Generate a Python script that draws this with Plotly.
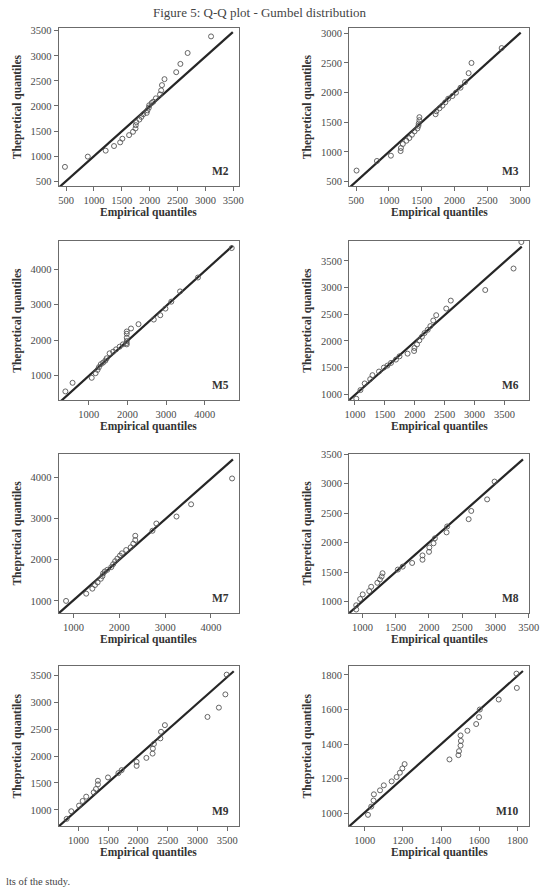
import plotly.graph_objects as go

W, H = 556, 891

# ---------------- data ----------------
panel_names = ["M2", "M3", "M5", "M6", "M7", "M8", "M9", "M10"]

m2_emp = [480, 890, 1210, 1360, 1470, 1510, 1630, 1700, 1745, 1750, 1760, 1815, 1850, 1885, 1945, 1960, 1985, 1990, 2035, 2065, 2110, 2185, 2205, 2220, 2265, 2475, 2550, 2680, 3100]
m2_theo = [784, 989, 1108, 1200, 1273, 1346, 1418, 1484, 1551, 1617, 1676, 1729, 1782, 1835, 1861, 1914, 1967, 2013, 2059, 2086, 2152, 2231, 2311, 2416, 2535, 2674, 2839, 3057, 3388]

m3_emp = [505, 816, 1029, 1177, 1182, 1211, 1266, 1310, 1350, 1389, 1434, 1449, 1454, 1464, 1464, 1711, 1721, 1770, 1815, 1859, 1904, 1968, 2022, 2091, 2160, 2215, 2259, 2719]
m3_theo = [684, 846, 935, 1013, 1064, 1132, 1187, 1232, 1288, 1344, 1394, 1439, 1478, 1534, 1584, 1634, 1684, 1734, 1779, 1835, 1896, 1941, 1997, 2081, 2175, 2326, 2498, 2749]

m5_emp = [395, 580, 1076, 1176, 1227, 1261, 1311, 1370, 1429, 1462, 1538, 1630, 1706, 1798, 1882, 1975, 1983, 1983, 1983, 1983, 1983, 2092, 2286, 2681, 2849, 2983, 3134, 3361, 3824, 4697]
m5_theo = [551, 794, 935, 1065, 1159, 1234, 1318, 1364, 1421, 1486, 1626, 1673, 1738, 1813, 1879, 1916, 1879, 1972, 2065, 2178, 2243, 2327, 2449, 2579, 2701, 2888, 3084, 3374, 3766, 4598]

m6_emp = [1022, 1092, 1163, 1255, 1293, 1402, 1484, 1543, 1603, 1685, 1745, 1880, 1989, 1995, 2038, 2076, 2120, 2163, 2217, 2261, 2310, 2359, 2527, 2603, 3179, 3652, 3783]
m6_theo = [913, 1075, 1199, 1280, 1355, 1423, 1498, 1535, 1585, 1647, 1709, 1759, 1809, 1865, 1933, 2008, 2077, 2145, 2207, 2276, 2381, 2481, 2606, 2755, 2954, 3358, 3856]

m7_emp = [837, 1277, 1411, 1468, 1525, 1596, 1631, 1645, 1681, 1738, 1823, 1865, 1908, 1957, 2014, 2057, 2149, 2248, 2305, 2348, 2348, 2723, 2808, 3248, 3567, 4461]
m7_theo = [1000, 1176, 1297, 1385, 1449, 1537, 1601, 1665, 1713, 1754, 1818, 1890, 1962, 2026, 2098, 2154, 2234, 2299, 2387, 2475, 2579, 2700, 2876, 3045, 3342, 3968]

m8_emp = [907, 907, 966, 1005, 1103, 1132, 1225, 1264, 1289, 1303, 1533, 1606, 1748, 1904, 1904, 2002, 2007, 2070, 2090, 2266, 2275, 2598, 2637, 2876, 2988]
m8_theo = [866, 938, 1045, 1123, 1179, 1252, 1320, 1376, 1426, 1482, 1544, 1594, 1656, 1711, 1784, 1845, 1918, 1990, 2074, 2175, 2276, 2399, 2539, 2735, 3037]

m9_emp = [803, 880, 1011, 1071, 1131, 1257, 1295, 1328, 1328, 1497, 1672, 1726, 1978, 1978, 2142, 2246, 2251, 2268, 2377, 2388, 2453, 3169, 3360, 3469, 3491]
m9_theo = [834, 975, 1080, 1166, 1246, 1326, 1388, 1474, 1541, 1603, 1683, 1738, 1818, 1892, 1966, 2046, 2138, 2224, 2328, 2451, 2574, 2727, 2899, 3145, 3512]

m10_emp = [1017, 1034, 1046, 1048, 1080, 1100, 1141, 1167, 1184, 1197, 1209, 1444, 1491, 1494, 1502, 1504, 1502, 1538, 1584, 1599, 1603, 1702, 1797, 1795]
m10_theo = [990, 1038, 1073, 1109, 1132, 1161, 1184, 1209, 1234, 1259, 1284, 1311, 1336, 1359, 1391, 1418, 1450, 1477, 1516, 1556, 1600, 1658, 1725, 1808]

# fitted reference lines: [start, end] in empirical / theoretical units
line_emp = [[380, 3490], [400, 3010], [230, 4720], [905, 3790], [680, 4480], [800, 3415], [670, 3610], [918, 1829]]
line_theo = [[380, 3475], [400, 3010], [230, 4660], [890, 3770], [705, 4430], [805, 3415], [695, 3575], [923, 1823]]

x_ticks = [
    [500, 1000, 1500, 2000, 2500, 3000, 3500],
    [500, 1000, 1500, 2000, 2500, 3000],
    [1000, 2000, 3000, 4000],
    [1000, 1500, 2000, 2500, 3000, 3500],
    [1000, 2000, 3000, 4000],
    [1000, 1500, 2000, 2500, 3000, 3500],
    [1000, 1500, 2000, 2500, 3000, 3500],
    [1000, 1200, 1400, 1600, 1800],
]
y_ticks = [
    [500, 1000, 1500, 2000, 2500, 3000, 3500],
    [500, 1000, 1500, 2000, 2500, 3000],
    [1000, 2000, 3000, 4000],
    [1000, 1500, 2000, 2500, 3000, 3500],
    [1000, 2000, 3000, 4000],
    [1000, 1500, 2000, 2500, 3000, 3500],
    [1000, 1500, 2000, 2500, 3000, 3500],
    [1000, 1200, 1400, 1600, 1800],
]

x_label = "Empirical quantiles"
y_label = "Thepretical quantiles"
title_text = "Figure 5: Q-Q plot - Gumbel distribution"
footer_text = "lts of the study."

# ---------------- layout configuration ----------------
emp = [m2_emp, m3_emp, m5_emp, m6_emp, m7_emp, m8_emp, m9_emp, m10_emp]
theo = [m2_theo, m3_theo, m5_theo, m6_theo, m7_theo, m8_theo, m9_theo, m10_theo]

x_ranges = [[366, 3605], [391, 3143], [219, 4891], [902, 3918], [674, 4617], [800, 3512], [667, 3702], [918, 1863]]
y_ranges = [[393, 3565], [416, 3095], [308, 4794], [888, 3873], [703, 4569], [804, 3511], [693, 3672], [923, 1852]]

col_px = [(56, 241.3), (354, 539)]
row_px = [(22.7, 182.7), (237.7, 397.7), (451.7, 612.3), (665.5, 827)]
xtitle_y_px = [209, 424, 639, 853]
ytitle_x_px = [13.5, 311]

FONT = "Liberation Serif"
TICK_COLOR = "#4a4a4a"
TITLE_COLOR = "#333333"


def px_x(x):
    return x / W


def px_y(y):
    return 1 - y / H


fig = go.Figure()
layout = dict(
    width=W, height=H,
    margin=dict(l=0, r=0, t=0, b=0),
    paper_bgcolor="white", plot_bgcolor="white",
    showlegend=False,
    font=dict(family=FONT, color=TICK_COLOR, size=10),
)
annotations = []

for i, name in enumerate(panel_names):
    r, c = divmod(i, 2)
    n = i + 1
    xa = "x" if n == 1 else f"x{n}"
    ya = "y" if n == 1 else f"y{n}"
    xkey = "xaxis" if n == 1 else f"xaxis{n}"
    ykey = "yaxis" if n == 1 else f"yaxis{n}"

    fig.add_trace(go.Scatter(
        x=line_emp[i], y=line_theo[i], mode="lines",
        line=dict(color="#262626", width=2.2),
        xaxis=xa, yaxis=ya, hoverinfo="skip"))
    fig.add_trace(go.Scatter(
        x=emp[i], y=theo[i], mode="markers",
        marker=dict(symbol="circle-open", size=5, color="#555555",
                    line=dict(width=0.9, color="#555555")),
        xaxis=xa, yaxis=ya))

    x0, x1 = col_px[c]
    y0, y1 = row_px[r]
    common = dict(showgrid=False, zeroline=False, showline=True, mirror=True,
                  linecolor="#6b6b6b", linewidth=1, ticks="outside", ticklen=4,
                  tickwidth=1, tickcolor="#6b6b6b",
                  tickfont=dict(family=FONT, size=10.5, color=TICK_COLOR))
    layout[xkey] = dict(domain=[px_x(x0), px_x(x1)], range=x_ranges[i],
                        tickvals=x_ticks[i], anchor=ya, **common)
    layout[ykey] = dict(domain=[px_y(y1), px_y(y0)], range=y_ranges[i],
                        tickvals=y_ticks[i], anchor=xa, **common)

    # panel tag
    annotations.append(dict(
        text=f"<b>{name}</b>", xref=f"{xa} domain", yref=f"{ya} domain",
        x=0.955, y=0.045, xanchor="right", yanchor="bottom", showarrow=False,
        font=dict(family=FONT, size=11.5, color=TITLE_COLOR)))
    # axis titles
    annotations.append(dict(
        text=f"<b>{x_label}</b>", xref="paper", yref="paper",
        x=px_x((x0 + x1) / 2), y=px_y(xtitle_y_px[r]),
        xanchor="center", yanchor="middle", showarrow=False,
        font=dict(family=FONT, size=11.5, color=TITLE_COLOR)))
    annotations.append(dict(
        text=f"<b>{y_label}</b>", xref="paper", yref="paper",
        x=px_x(ytitle_x_px[c]), y=px_y((y0 + y1) / 2),
        xanchor="center", yanchor="middle", textangle=-90, showarrow=False,
        font=dict(family=FONT, size=11.5, color=TITLE_COLOR)))

annotations.append(dict(
    text=title_text, xref="paper", yref="paper",
    x=px_x(263), y=px_y(-2), xanchor="center", yanchor="top",
    showarrow=False, font=dict(family=FONT, size=13, color="#444444")))
annotations.append(dict(
    text=footer_text, xref="paper", yref="paper",
    x=px_x(0), y=px_y(882), xanchor="left", yanchor="middle",
    showarrow=False, font=dict(family=FONT, size=10.5, color="#444444")))

layout["annotations"] = annotations
fig.update_layout(**layout)
fig.write_html("out.html")
